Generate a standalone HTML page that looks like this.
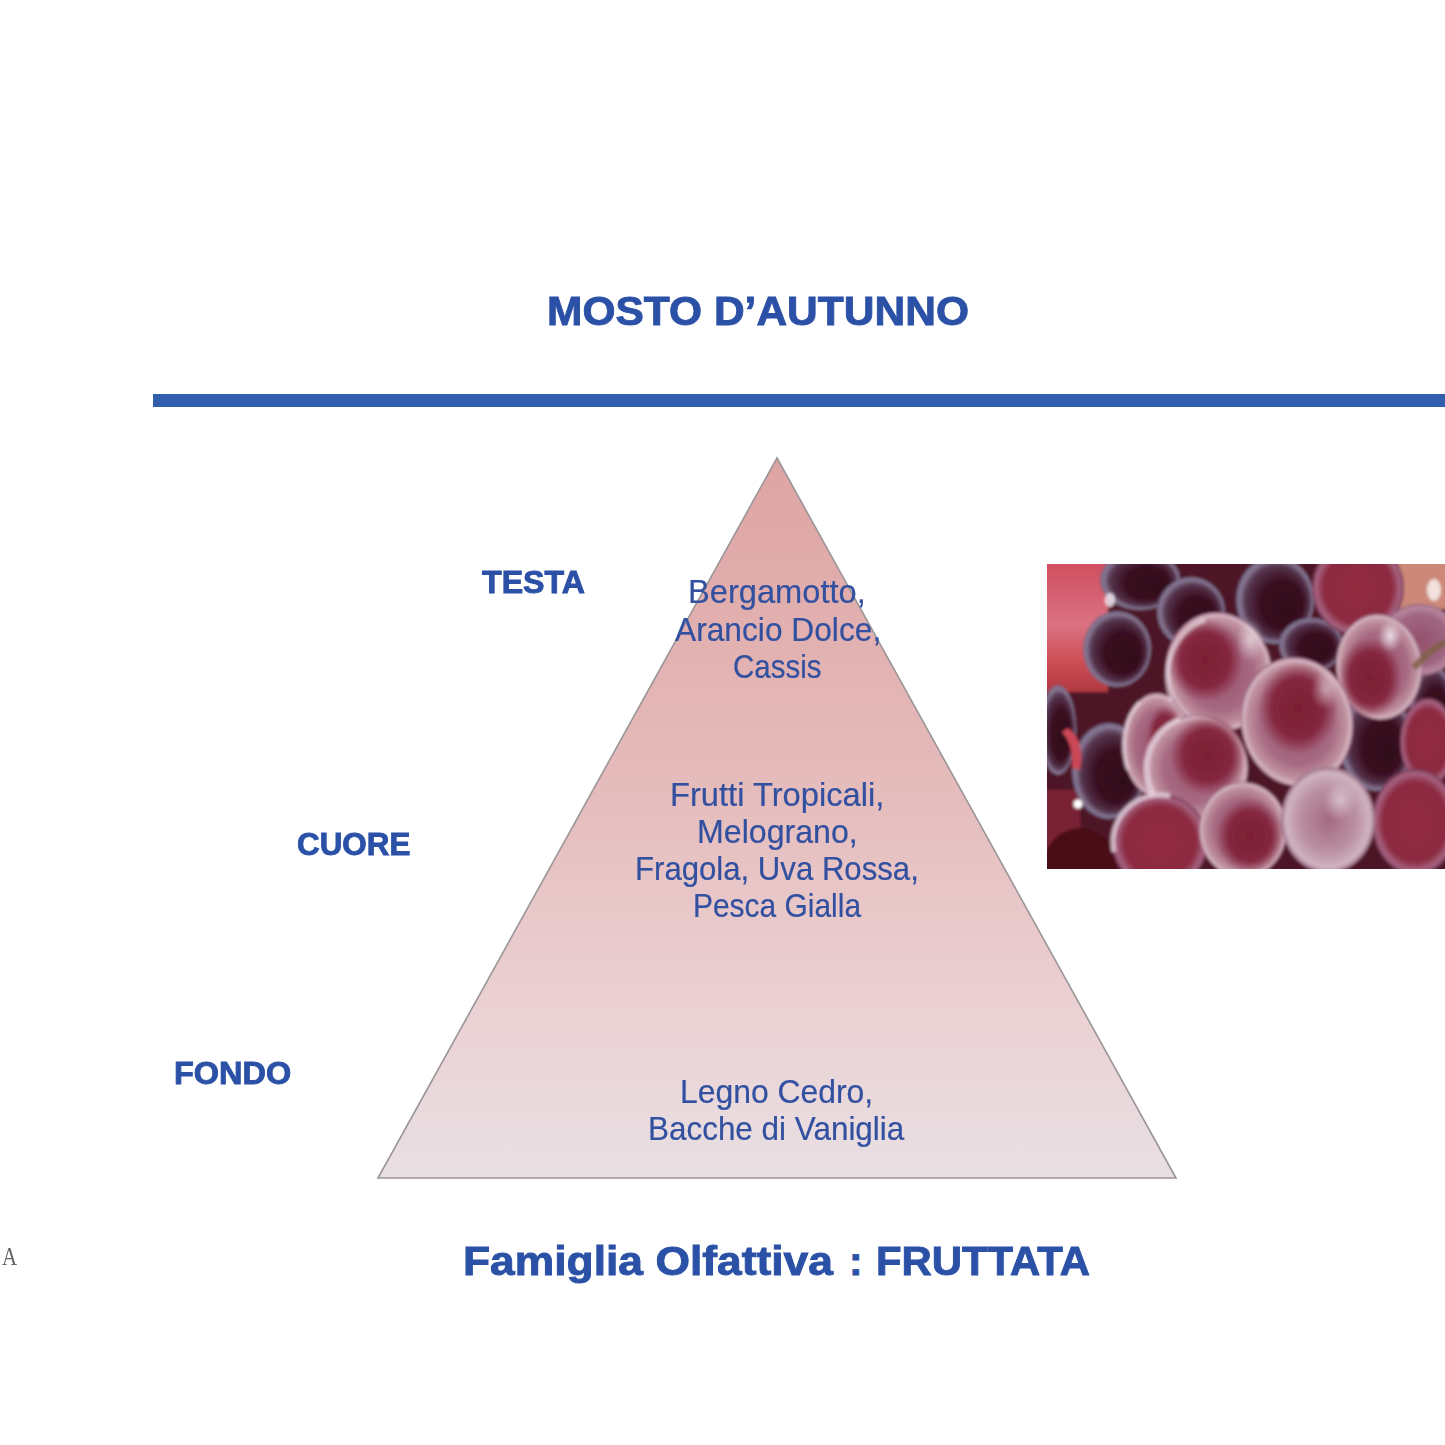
<!DOCTYPE html>
<html><head><meta charset="utf-8"><style>
html,body{margin:0;padding:0;background:#fff;width:1445px;height:1445px;overflow:hidden}
.t{position:absolute;white-space:nowrap;line-height:1;font-family:"Liberation Sans",sans-serif;color:#2c4c9c;transform-origin:0 0}
.bar{position:absolute;left:153px;top:394px;width:1292px;height:13px;background:#315ead}
svg{position:absolute;left:0;top:0}
</style></head><body>
<svg width="1445" height="1445" viewBox="0 0 1445 1445">
<defs>
<linearGradient id="tri" x1="0" y1="458" x2="0" y2="1177.5" gradientUnits="userSpaceOnUse">
<stop offset="0" stop-color="#dea4a3"/>
<stop offset="0.45" stop-color="#e5bbbb"/>
<stop offset="0.75" stop-color="#ebd0d2"/>
<stop offset="1" stop-color="#e8dfe3"/>
</linearGradient>
</defs>
<polygon points="777,458 1176,1178 378,1178" fill="url(#tri)" stroke="#9a9597" stroke-width="1.6" stroke-linejoin="miter"/>
</svg>
<div class="bar"></div>
<svg style="position:absolute;left:1047px;top:564px" width="398" height="305" viewBox="1047 564 398 305">
<defs>
<radialGradient id="gbloom" cx="0.5" cy="0.5" r="0.5">
<stop offset="0" stop-color="#9a4e68"/><stop offset="0.65" stop-color="#a66a82"/><stop offset="0.88" stop-color="#c0929f"/><stop offset="0.96" stop-color="#d8b8c6"/><stop offset="1" stop-color="#8e5670"/>
</radialGradient>
<radialGradient id="gcrim" cx="0.5" cy="0.5" r="0.5">
<stop offset="0" stop-color="#922c3e"/><stop offset="0.75" stop-color="#8c2c42"/><stop offset="0.92" stop-color="#a86482"/><stop offset="1" stop-color="#743650"/>
</radialGradient>
<radialGradient id="gpale" cx="0.5" cy="0.5" r="0.5">
<stop offset="0" stop-color="#a46a80"/><stop offset="0.6" stop-color="#ba90a2"/><stop offset="0.9" stop-color="#d0b4c2"/><stop offset="1" stop-color="#9a6e84"/>
</radialGradient>
<radialGradient id="gdark" cx="0.5" cy="0.5" r="0.5" fx="0.7" fy="0.62">
<stop offset="0" stop-color="#2e0818"/><stop offset="0.55" stop-color="#3a0f20"/><stop offset="0.82" stop-color="#56354e"/><stop offset="0.94" stop-color="#8a7c98"/><stop offset="1" stop-color="#6a5a78"/>
</radialGradient>
<radialGradient id="gpatch" cx="0.5" cy="0.5" r="0.5">
<stop offset="0" stop-color="#7c1e34"/><stop offset="0.65" stop-color="#82243c" stop-opacity="0.95"/><stop offset="1" stop-color="#8a2c48" stop-opacity="0"/>
</radialGradient>
<radialGradient id="gmauve" cx="0.5" cy="0.5" r="0.5">
<stop offset="0" stop-color="#94506c"/><stop offset="0.7" stop-color="#a06682"/><stop offset="0.92" stop-color="#b8889f"/><stop offset="1" stop-color="#8a5a74"/>
</radialGradient>
<radialGradient id="gh" cx="0.5" cy="0.5" r="0.5">
<stop offset="0" stop-color="#f4eef4" stop-opacity="0.9"/><stop offset="1" stop-color="#f4eef4" stop-opacity="0"/>
</radialGradient>
<linearGradient id="bgred" x1="0" y1="0" x2="0" y2="1">
<stop offset="0" stop-color="#d04a5c"/><stop offset="0.5" stop-color="#da7282"/><stop offset="0.75" stop-color="#d05058"/><stop offset="1" stop-color="#b03840"/>
</linearGradient>
<filter id="bl" x="-5%" y="-5%" width="110%" height="110%"><feGaussianBlur stdDeviation="1.4"/></filter>
<filter id="bl2" x="-30%" y="-30%" width="160%" height="160%"><feGaussianBlur stdDeviation="5"/></filter>
</defs>
<g filter="url(#bl)">
<rect x="1040" y="557" width="412" height="320" fill="#4e1626"/>
<rect x="1040" y="557" width="68" height="135" fill="url(#bgred)"/>
<rect x="1040" y="790" width="40" height="60" fill="#7a2434"/>
<rect x="1398" y="557" width="55" height="52" fill="#cc8878"/>
<ellipse cx="1434" cy="590" rx="7" ry="11" fill="#fff" opacity="0.75"/>
<ellipse cx="1140" cy="580" rx="40" ry="30" fill="url(#gdark)"/>
<ellipse cx="1117" cy="649" rx="34" ry="38" fill="url(#gdark)"/>
<ellipse cx="1191" cy="612" rx="34" ry="35" fill="url(#gdark)"/>
<ellipse cx="1275" cy="600" rx="39" ry="44" fill="url(#gdark)"/>
<ellipse cx="1311" cy="645" rx="32" ry="27" fill="url(#gdark)"/>
<ellipse cx="1109" cy="771" rx="37" ry="48" fill="url(#gdark)"/>
<ellipse cx="1058" cy="730" rx="18" ry="45" fill="url(#gdark)"/>
<ellipse cx="1080" cy="864" rx="36" ry="36" fill="#480a18"/>
<ellipse cx="1376" cy="742" rx="37" ry="49" fill="url(#gdark)"/>
<ellipse cx="1432" cy="705" rx="22" ry="40" fill="url(#gdark)"/>
<path d="M1068 728 Q1085 740 1080 770 L1072 768 Q1074 745 1062 732 Z" fill="#cc4656"/>
<ellipse cx="1078" cy="804" rx="4.5" ry="4.5" fill="#fff"/>
<ellipse cx="1110" cy="600" rx="5" ry="7" fill="#f0e8ee" opacity="0.85"/>
<ellipse cx="1358" cy="588" rx="46" ry="48" fill="url(#gcrim)"/>
<ellipse cx="1420" cy="640" rx="40" ry="36" fill="url(#gmauve)"/>
<ellipse cx="1428" cy="742" rx="28" ry="44" fill="url(#gcrim)"/>
<ellipse cx="1157" cy="745" rx="34" ry="52" fill="url(#gbloom)"/>
<ellipse cx="1165" cy="735" rx="18" ry="30" fill="url(#gpatch)"/>
<ellipse cx="1219" cy="672" rx="53" ry="60" fill="url(#gbloom)" transform="rotate(-12 1219 672)"/>
<ellipse cx="1205" cy="660" rx="38" ry="42" fill="url(#gpatch)"/>
<ellipse cx="1379" cy="667" rx="43" ry="53" fill="url(#gbloom)" transform="rotate(-5 1379 667)"/>
<ellipse cx="1370" cy="678" rx="32" ry="40" fill="url(#gpatch)"/>
<ellipse cx="1297" cy="722" rx="56" ry="65" fill="url(#gbloom)" transform="rotate(-10 1297 722)"/>
<ellipse cx="1298" cy="708" rx="40" ry="46" fill="url(#gpatch)"/>
<ellipse cx="1197" cy="768" rx="51" ry="53" fill="url(#gbloom)"/>
<ellipse cx="1208" cy="755" rx="38" ry="40" fill="url(#gpatch)"/>
<ellipse cx="1160" cy="842" rx="48" ry="48" fill="url(#gcrim)"/>
<ellipse cx="1243" cy="830" rx="44" ry="48" fill="url(#gbloom)"/>
<ellipse cx="1250" cy="836" rx="34" ry="38" fill="url(#gpatch)"/>
<ellipse cx="1415" cy="822" rx="43" ry="53" fill="url(#gcrim)"/>
<ellipse cx="1328" cy="820" rx="47" ry="53" fill="url(#gpale)"/>
<path d="M1114 852 A47 47 0 0 1 1170 796" stroke="#eedde8" stroke-width="5" fill="none" opacity="0.75"/>
<path d="M1180 719 A50 52 0 0 0 1153 795" stroke="#eedde8" stroke-width="5" fill="none" opacity="0.7"/>
<path d="M1140 702 A32 50 0 0 0 1128 770" stroke="#eedde8" stroke-width="4" fill="none" opacity="0.6"/>
<path d="M1205 620 A50 58 0 0 0 1172 700" stroke="#eedde8" stroke-width="5" fill="none" opacity="0.6"/>
<path d="M1414 668 Q1428 650 1447 642" stroke="#806048" stroke-width="7" fill="none" opacity="0.85"/>
<ellipse cx="1390" cy="636" rx="12" ry="16" fill="url(#gh)"/>
<ellipse cx="1250" cy="640" rx="14" ry="22" fill="url(#gh)" opacity="0.7"/>
<ellipse cx="1325" cy="690" rx="14" ry="20" fill="url(#gh)" opacity="0.6"/>
<ellipse cx="1340" cy="800" rx="16" ry="20" fill="url(#gh)" opacity="0.6"/>
</g>
</svg>
<div class="t" style="left:547.47px;top:290.36px;font-size:41.57px;font-weight:bold;transform:scaleX(1.0228);color:#2b51a7;-webkit-text-stroke:0.9px #2b51a7">MOSTO D’AUTUNNO</div>
<div class="t" style="left:482.13px;top:567.00px;font-size:31.83px;font-weight:bold;transform:scaleX(1.0111);color:#2b51a7;-webkit-text-stroke:0.9px #2b51a7">TESTA</div>
<div class="t" style="left:296.69px;top:829.40px;font-size:31.83px;font-weight:bold;transform:scaleX(0.9861);color:#2b51a7;-webkit-text-stroke:0.9px #2b51a7">CUORE</div>
<div class="t" style="left:174.38px;top:1058.20px;font-size:31.83px;font-weight:bold;transform:scaleX(1.0197);color:#2b51a7;-webkit-text-stroke:0.9px #2b51a7">FONDO</div>
<div class="t" style="left:687.99px;top:576.48px;font-size:32.63px;font-weight:normal;transform:scaleX(1.0001);color:#3250a0;-webkit-text-stroke:0.2px #3250a0">Bergamotto,</div>
<div class="t" style="left:674.60px;top:613.78px;font-size:32.63px;font-weight:normal;transform:scaleX(0.9720);color:#3250a0;-webkit-text-stroke:0.2px #3250a0">Arancio Dolce,</div>
<div class="t" style="left:732.63px;top:651.48px;font-size:32.63px;font-weight:normal;transform:scaleX(0.9036);color:#3250a0;-webkit-text-stroke:0.2px #3250a0">Cassis</div>
<div class="t" style="left:669.78px;top:779.38px;font-size:32.63px;font-weight:normal;transform:scaleX(1.0019);color:#3250a0;-webkit-text-stroke:0.2px #3250a0">Frutti Tropicali,</div>
<div class="t" style="left:696.53px;top:815.78px;font-size:32.63px;font-weight:normal;transform:scaleX(0.9848);color:#3250a0;-webkit-text-stroke:0.2px #3250a0">Melograno,</div>
<div class="t" style="left:635.41px;top:853.08px;font-size:32.63px;font-weight:normal;transform:scaleX(0.9543);color:#3250a0;-webkit-text-stroke:0.2px #3250a0">Fragola, Uva Rossa,</div>
<div class="t" style="left:692.50px;top:890.48px;font-size:32.63px;font-weight:normal;transform:scaleX(0.9177);color:#3250a0;-webkit-text-stroke:0.2px #3250a0">Pesca Gialla</div>
<div class="t" style="left:680.05px;top:1075.98px;font-size:32.63px;font-weight:normal;transform:scaleX(0.9772);color:#3250a0;-webkit-text-stroke:0.2px #3250a0">Legno Cedro,</div>
<div class="t" style="left:648.09px;top:1113.28px;font-size:32.63px;font-weight:normal;transform:scaleX(0.9635);color:#3250a0;-webkit-text-stroke:0.2px #3250a0">Bacche di Vaniglia</div>
<div class="t" style="left:463.34px;top:1240.62px;font-size:40.55px;font-weight:bold;transform:scaleX(1.0946);color:#2b51a7;-webkit-text-stroke:0.9px #2b51a7">Famiglia Olfattiva</div>
<div class="t" style="left:848.99px;top:1240.62px;font-size:40.55px;font-weight:bold;transform:scaleX(1.0000);color:#2b51a7;-webkit-text-stroke:0.9px #2b51a7">:</div>
<div class="t" style="left:876.22px;top:1240.62px;font-size:40.55px;font-weight:bold;transform:scaleX(1.0326);color:#2b51a7;-webkit-text-stroke:0.9px #2b51a7">FRUTTATA</div>
<div class="t" style="left:1.75px;top:1243.84px;font-size:25.50px;font-family:'Liberation Serif',serif;color:#666;transform:scaleX(0.82)">A</div>
</body></html>
